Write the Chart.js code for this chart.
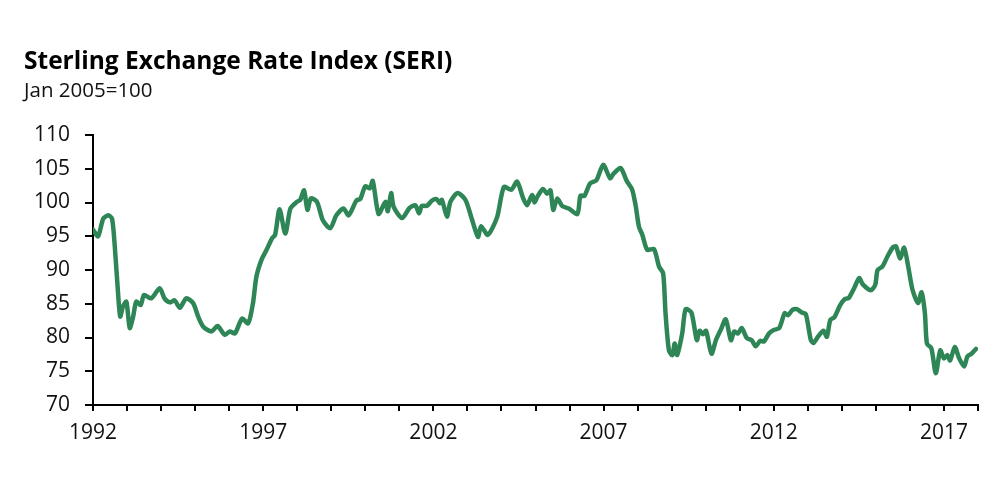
<!DOCTYPE html>
<html>
<head>
<meta charset="utf-8">
<script src="https://cdn.jsdelivr.net/npm/chart.js@4"></script>
<style>
  html, body { margin: 0; padding: 0; background: #fff; }
  #wrap { width: 1000px; height: 500px; }
</style>
</head>
<body>
<div id="wrap"><canvas id="c" width="1000" height="500"></canvas></div>
<script>
const titleText = "Sterling Exchange Rate Index (SERI)";
const subtitleText = "Jan 2005=100";

// Decimal-year dates of the points
const years = [
  1992.00,1992.15,1992.30,1992.45,1992.56,1992.64,1992.73,1992.80,1992.88,1992.98,
  1993.08,1993.18,1993.27,1993.40,1993.50,1993.71,1993.96,1994.10,1994.26,1994.40,
  1994.55,1994.74,1994.94,1995.09,1995.24,1995.48,1995.66,1995.87,1996.02,1996.17,
  1996.38,1996.56,1996.70,1996.80,1996.95,1997.10,1997.26,1997.35,1997.48,1997.65,
  1997.80,1997.99,1998.09,1998.20,1998.30,1998.40,1998.58,1998.75,1998.97,1999.15,
  1999.36,1999.51,1999.74,1999.85,2000.00,2000.13,2000.22,2000.39,2000.59,2000.66,
  2000.76,2000.83,2001.08,2001.30,2001.47,2001.58,2001.66,2001.81,2001.96,2002.09,
  2002.19,2002.25,2002.40,2002.50,2002.71,2002.94,2003.14,2003.31,2003.40,2003.60,
  2003.87,2004.07,2004.29,2004.46,2004.64,2004.75,2004.90,2004.97,2005.06,2005.22,
  2005.34,2005.44,2005.52,2005.64,2005.78,2005.98,2006.23,2006.32,2006.44,2006.60,
  2006.79,2006.99,2007.19,2007.30,2007.50,2007.68,2007.84,2007.94,2008.04,2008.14,
  2008.28,2008.48,2008.63,2008.75,2008.82,2008.92,2009.02,2009.09,2009.16,2009.31,
  2009.41,2009.58,2009.74,2009.82,2009.92,2010.01,2010.17,2010.30,2010.44,2010.59,
  2010.74,2010.84,2010.95,2011.06,2011.21,2011.35,2011.47,2011.60,2011.71,2011.86,
  2012.00,2012.16,2012.32,2012.42,2012.55,2012.68,2012.82,2012.94,2013.09,2013.17,
  2013.31,2013.46,2013.56,2013.66,2013.78,2013.95,2014.09,2014.21,2014.36,2014.51,
  2014.61,2014.85,2014.98,2015.05,2015.19,2015.34,2015.49,2015.59,2015.71,2015.83,
  2015.95,2016.08,2016.24,2016.34,2016.44,2016.50,2016.63,2016.76,2016.89,2017.00,
  2017.10,2017.18,2017.32,2017.44,2017.59,2017.69,2017.81,2017.94
];

// SERI values (Jan 2005 = 100)
const seri = [
  96.0,95.0,97.6,98.1,97.6,93.5,87.0,83.1,84.6,85.3,
  81.4,83.1,85.3,84.8,86.3,85.8,87.3,85.8,85.2,85.5,
  84.4,85.8,85.1,83.1,81.6,80.9,81.7,80.4,80.9,80.6,
  82.8,82.1,85.1,89.0,91.5,93.0,94.7,95.2,99.0,95.4,
  99.1,100.1,100.4,101.8,98.9,100.6,100.1,97.4,96.2,98.1,
  99.1,98.1,100.3,100.5,102.4,102.1,103.2,98.3,100.1,98.7,
  101.4,99.4,97.7,99.2,99.6,98.4,99.5,99.5,100.3,100.5,
  99.9,100.4,97.9,100.1,101.4,100.4,97.4,94.9,96.5,95.2,
  97.8,102.3,101.9,103.1,100.6,99.6,101.1,100.0,100.9,102.0,
  101.3,101.8,98.9,100.6,99.5,99.1,98.3,101.0,101.0,102.8,
  103.3,105.6,103.6,104.3,105.1,103.2,101.9,99.6,96.4,95.2,
  93.0,93.1,90.5,89.5,83.6,78.1,77.4,79.1,77.4,80.6,
  84.2,83.7,79.6,81.0,80.5,81.0,77.6,79.6,81.1,82.7,
  79.6,80.9,80.6,81.4,79.9,79.6,78.7,79.5,79.4,80.6,
  81.1,81.4,83.6,83.3,84.1,84.2,83.7,83.5,79.6,79.2,
  80.2,81.0,80.1,82.6,83.0,84.8,85.7,85.9,87.3,88.8,
  87.9,87.0,87.8,90.0,90.5,92.0,93.3,93.5,91.7,93.3,
  90.5,87.0,85.1,86.7,83.6,79.1,78.4,74.7,78.1,76.9,
  77.4,76.6,78.6,77.0,75.7,77.2,77.6,78.3
];

// Axis ranges and tick settings
const xMin = 1992, xMax = 2018, labelEvery = 5;
const yMin = 70, yMax = 110, yStep = 5;

const points = years.map((x, i) => ({ x: x, y: seri[i] }));

const FONT = "'Open Sans', 'Noto Sans', sans-serif";

new Chart(document.getElementById('c'), {
  type: 'line',
  data: {
    datasets: [{
      data: points,
      borderColor: '#2e8656',
      borderWidth: 4.5,
      pointRadius: 0,
      tension: 0.25,
      fill: false,
      borderCapStyle: 'round',
      borderJoinStyle: 'round'
    }]
  },
  options: {
    responsive: false,
    animation: false,
    events: [],
    layout: { padding: { left: 24, right: 22, top: 0, bottom: 0 } },
    plugins: {
      legend: { display: false },
      tooltip: { enabled: false },
      title: {
        display: true,
        text: titleText,
        align: 'start',
        color: '#000',
        font: { family: FONT, size: 24.5, weight: 'bold', lineHeight: 1.2 },
        padding: { top: 47, bottom: 0 }
      },
      subtitle: {
        display: true,
        text: subtitleText,
        align: 'start',
        color: '#111',
        font: { family: FONT, size: 20.5, weight: 'normal', lineHeight: 1.2 },
        padding: { top: 2, bottom: 32 }
      }
    },
    scales: {
      x: {
        type: 'linear',
        min: xMin,
        max: xMax,
        afterFit: (s) => { s.height = 95; },
        afterBuildTicks: (s) => {
          const t = [];
          for (let v = xMin; v <= xMax; v++) t.push({ value: v });
          s.ticks = t;
        },
        ticks: {
          autoSkip: false,
          maxRotation: 0,
          padding: 9,
          color: '#111',
          font: { family: FONT, size: 21 },
          callback: (v) => ((v - xMin) % labelEvery === 0 ? String(v) : '')
        },
        grid: { drawOnChartArea: false, drawTicks: true, tickLength: 6, color: '#000', lineWidth: 2 },
        border: { display: true, color: '#000', width: 2 }
      },
      y: {
        min: yMin,
        max: yMax,
        afterFit: (s) => { s.width = 69; },
        ticks: {
          stepSize: yStep,
          padding: 15,
          color: '#111',
          font: { family: FONT, size: 21 }
        },
        grid: { drawOnChartArea: false, drawTicks: true, tickLength: 8, color: '#000', lineWidth: 2 },
        border: { display: true, color: '#000', width: 2 }
      }
    }
  }
});
</script>
</body>
</html>
